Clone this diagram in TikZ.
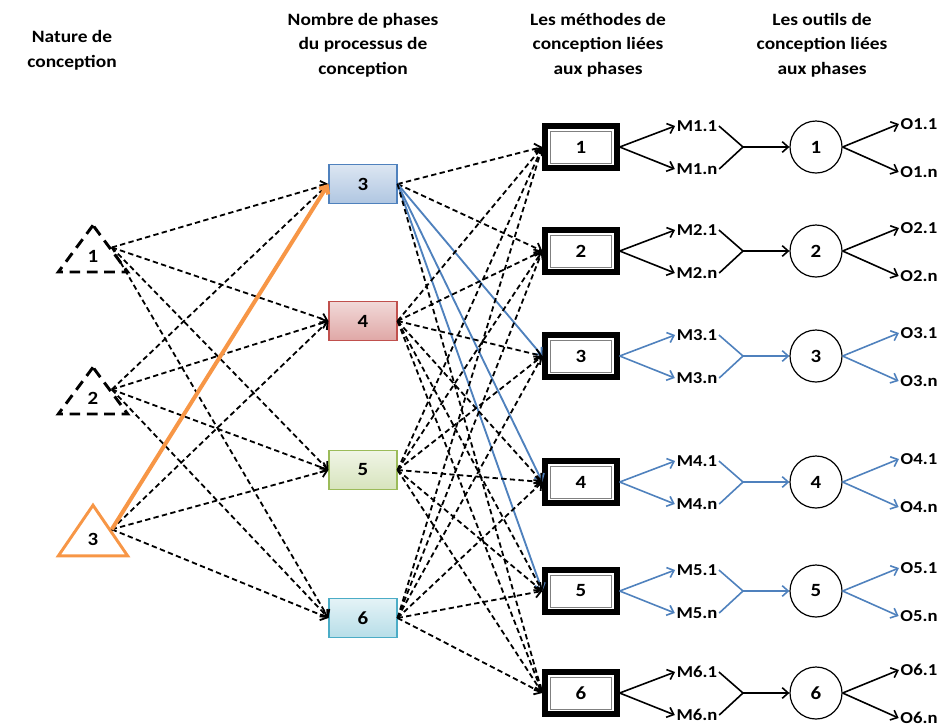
\documentclass[tikz,border=0pt]{standalone}
\usepackage{fontspec}
\setmainfont{Carlito}[FakeStretch=1.12]
\usetikzlibrary{arrows.meta,shapes.geometric}

\definecolor{ofblue}{RGB}{79,129,189}
\definecolor{oforange}{RGB}{247,150,70}
\definecolor{ofred}{RGB}{192,80,77}
\definecolor{ofgreen}{RGB}{155,187,89}
\definecolor{ofcyan}{RGB}{75,172,198}

\tikzset{every picture/.style={line width=0.75pt}}

\begin{document}
\begin{tikzpicture}[x=0.75pt,y=0.75pt,yscale=-1,xscale=1,
  >={Straight Barb[length=4.5pt,width=8pt]},
  head/.style={font=\bfseries\fontsize{13}{18.5}\selectfont,align=center},
  nat/.style={isosceles triangle,isosceles triangle stretches,shape border rotate=90,
    minimum width=52pt,minimum height=35pt,inner sep=1pt,line width=2.2pt,
    font=\bfseries\fontsize{14}{15}\selectfont},
  natdash/.style={nat,draw=black,dash pattern=on 8pt off 5pt},
  natsel/.style={nat,draw=oforange},
  phase/.style={draw=#1,line width=0.8pt,minimum width=51pt,minimum height=29pt,
    font=\bfseries\fontsize{14}{16}\selectfont},
  mbox/.style={draw=gray,line width=0.5pt,fill=white,minimum width=46pt,minimum height=24pt,
    outer sep=6pt,font=\bfseries\fontsize{14}{16}\selectfont,
    preaction={draw=black,line width=12pt},preaction={draw=white,line width=3pt}},
  outil/.style={circle,draw,line width=0.9pt,minimum size=39pt,
    font=\bfseries\fontsize{14}{16}\selectfont},
  lab/.style={inner sep=1pt,font=\bfseries\fontsize{12.5}{14}\selectfont},
  dasharr/.style={->,line width=1.35pt,dash pattern=on 4pt off 2.5pt},
  solarr/.style={->,line width=1.2pt}]
\path[use as bounding box] (0,0) rectangle (943,726);

% titres des colonnes
\node[head] (h1) at (72,50) {Nature de\\conception};
\node[head] (h2) at (363,45) {Nombre de phases\\du processus de\\conception};
\node[head] (h3) at (598,45) {Les méthodes de\\conception liées\\aux phases};
\node[head] (h4) at (822,45) {Les outils de\\conception liées\\aux phases};

% nature de conception
\node[natdash] (t1) at (93,256) {1};
\node[natdash] (t2) at (93,398) {2};
\node[natsel,minimum height=38pt] (t3) at (93,539) {3};

% nombre de phases
\node[phase=ofblue,top color=ofblue!20,bottom color=ofblue!45] (p3) at (363,184) {3};
\node[phase=ofred,top color=ofred!22,bottom color=ofred!50] (p4) at (363,321) {4};
\node[phase=ofgreen,top color=ofgreen!15,bottom color=ofgreen!40] (p5) at (363,470) {5};
\node[phase=ofcyan,top color=ofcyan!15,bottom color=ofcyan!40] (p6) at (363,618) {6};

% methodes, outils
\foreach \i/\y/\c in {1/147/black,2/251/black,3/356/ofblue,4/482/ofblue,5/591/ofblue,6/693/black}{
  \node[mbox] (m\i) at (581,\y) {\i};
  \node[lab] (ma\i) at (697,\y-21) {M\i.1};
  \node[lab] (mn\i) at (697,\y+22) {M\i.n};
  \coordinate (j\i) at (743,\y);
  \node[outil] (c\i) at (816,\y) {\i};
  \node[lab] (oa\i) at (919,\y-23) {O\i.1};
  \node[lab] (on\i) at (919,\y+25) {O\i.n};
  \draw[solarr,draw=\c] (m\i.east) -- (ma\i.west);
  \draw[solarr,draw=\c] (m\i.east) -- (mn\i.west);
  \draw[line width=1.2pt,draw=\c] (ma\i.east) -- (j\i) -- (mn\i.east);
  \draw[solarr,draw=\c] (j\i) -- (c\i.west);
  \draw[solarr,draw=\c] (c\i.east) -- (oa\i.west);
  \draw[solarr,draw=\c] (c\i.east) -- (on\i.west);
}

% nature -> phases
\foreach \t in {1,2,3}
  \foreach \p in {3,4,5,6}{
    \ifnum\t\p=33 \else
      \draw[dasharr] (t\t.right side) -- (p\p.west);
    \fi
  }
\draw[->,draw=oforange,line width=3pt] (t3.right side) -- (p3.west);

% phases -> methodes
\foreach \p in {3,4,5,6}
  \foreach \m in {1,...,6}{
    \pgfmathtruncatemacro\hl{(\p==3)&&(\m>2)&&(\m<6)}
    \ifnum\hl=1
      \draw[solarr,draw=ofblue,line width=1.4pt] (p\p.east) -- (m\m.west);
    \else
      \draw[dasharr] (p\p.east) -- (m\m.west);
    \fi
  }

\end{tikzpicture}
\end{document}
